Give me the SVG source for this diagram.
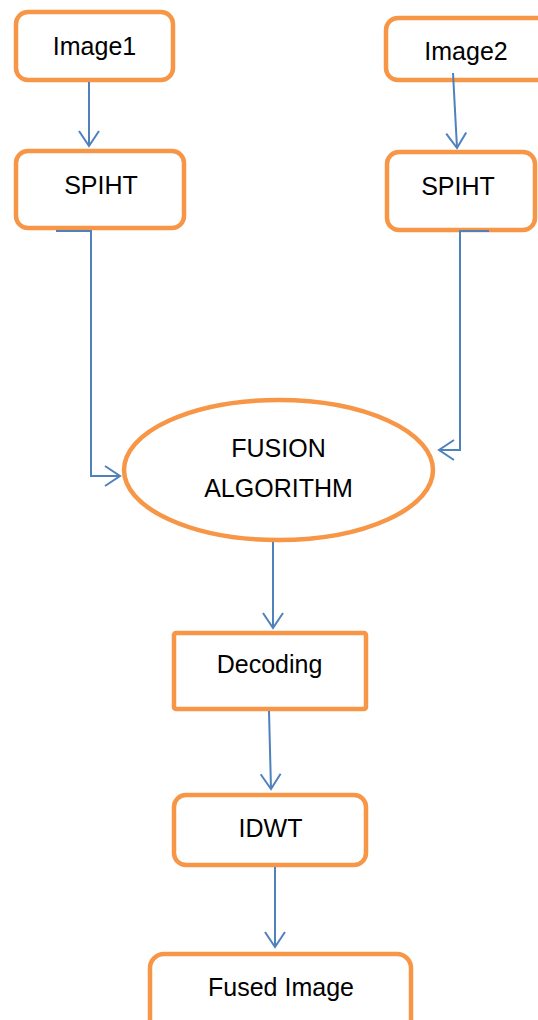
<svg xmlns="http://www.w3.org/2000/svg" width="538" height="1020" viewBox="0 0 538 1020">
  <style>
    .box { fill: #ffffff; stroke: #F79646; stroke-width: 4.5; }
    .lbl { font-family: "Liberation Sans", Arial, sans-serif; font-size: 25px; fill: #000000; text-anchor: middle; }
    .wire { fill: none; stroke: #4F81BD; stroke-width: 2; }
    .head { fill: none; stroke: #4F81BD; stroke-width: 2; }
  </style>
  <defs>
    <marker id="open" viewBox="-16 -11 18 22" markerWidth="18" markerHeight="22" refX="0" refY="0" orient="auto" markerUnits="userSpaceOnUse">
      <path class="head" d="M-15,-10 L0,0 L-15,10"/>
    </marker>
  </defs>

  <rect width="538" height="1020" fill="#ffffff"/>

  <g id="image1">
    <rect class="box" x="16" y="12" width="157" height="68" rx="12"/>
    <text class="lbl" x="94.5" y="55">Image1</text>
  </g>

  <g id="image2">
    <rect class="box" x="386" y="18" width="170" height="62" rx="12"/>
    <text class="lbl" x="466" y="60">Image2</text>
  </g>

  <g id="spiht1">
    <rect class="box" x="16" y="151" width="168" height="77" rx="12"/>
    <text class="lbl" x="101" y="194">SPIHT</text>
  </g>

  <g id="spiht2">
    <rect class="box" x="387" y="152" width="148" height="78" rx="12"/>
    <text class="lbl" x="458" y="195">SPIHT</text>
  </g>

  <g id="fusion">
    <ellipse class="box" cx="278.5" cy="470" rx="154.5" ry="70"/>
    <text class="lbl" x="278.5" y="457">FUSION</text>
    <text class="lbl" x="278.5" y="497">ALGORITHM</text>
  </g>

  <g id="decoding">
    <rect class="box" x="174" y="633" width="192" height="76" rx="2"/>
    <text class="lbl" x="269.5" y="673">Decoding</text>
  </g>

  <g id="idwt">
    <rect class="box" x="174" y="795" width="192" height="70" rx="12"/>
    <text class="lbl" x="270.5" y="837">IDWT</text>
  </g>

  <g id="fused">
    <rect class="box" x="150" y="954" width="261" height="90" rx="14"/>
    <text class="lbl" x="281" y="996">Fused Image</text>
  </g>

  <g id="connectors">
    <path class="wire" marker-end="url(#open)" d="M89,82 L89,146"/>
    <path class="wire" marker-end="url(#open)" d="M453,73 L457,148"/>
    <path class="wire" marker-end="url(#open)" d="M56,231 L91,231 L91,476 L120,476"/>
    <path class="wire" marker-end="url(#open)" d="M489,231 L460,231 L460,450 L439,450"/>
    <path class="wire" marker-end="url(#open)" d="M273,542 L273,628"/>
    <path class="wire" marker-end="url(#open)" d="M269,711 L271,789"/>
    <path class="wire" marker-end="url(#open)" d="M275,867 L275,947"/>
  </g>
</svg>
